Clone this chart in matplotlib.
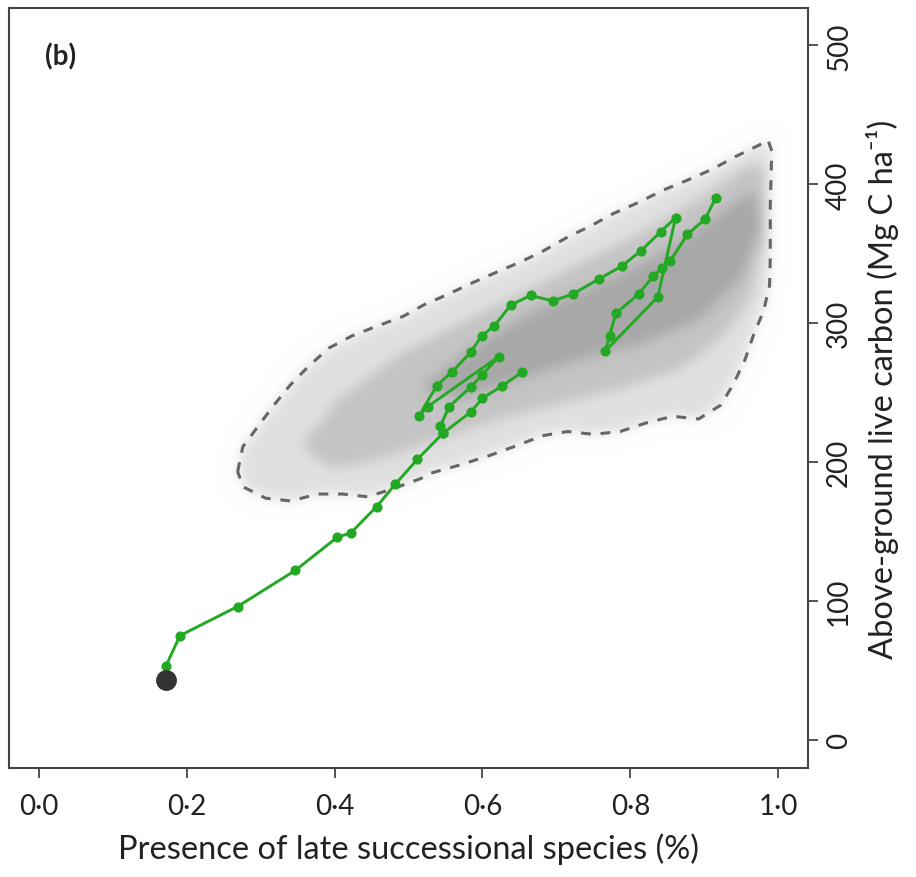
import matplotlib
matplotlib.use("Agg")
import numpy as np
import matplotlib.pyplot as plt
from matplotlib.path import Path

plt.rcParams['font.family'] = ['Lato', 'DejaVu Sans']

# ---------------- data ----------------
xticks = [0.0, 0.2, 0.4, 0.6, 0.8, 1.0]
xtick_labels = ["0·0", "0·2", "0·4", "0·6", "0·8", "1·0"]
yticks = [0, 100, 200, 300, 400, 500]
ytick_labels = ["0", "100", "200", "300", "400", "500"]

# outer envelope (dashed hull) of all simulated trajectories
hull_x = [0.269, 0.276, 0.297, 0.318, 0.341, 0.365, 0.392, 0.424, 0.458, 0.493,
          0.520, 0.554, 0.586, 0.620, 0.651, 0.682, 0.715, 0.746, 0.777, 0.811,
          0.845, 0.877, 0.911, 0.942, 0.973, 0.986, 0.991, 0.989, 0.989, 0.988,
          0.980, 0.966, 0.955, 0.939, 0.922, 0.892, 0.857, 0.820, 0.786, 0.750,
          0.715, 0.681, 0.647, 0.611, 0.570, 0.530, 0.516, 0.480, 0.445, 0.411,
          0.377, 0.341, 0.307, 0.277]
hull_y = [193, 211, 226, 241, 256, 269, 282, 291, 298, 305,
          313, 321, 329, 337, 344, 352, 362, 370, 379, 387,
          396, 403, 411, 420, 428, 432, 424, 385, 347, 327,
          309, 291, 274, 256, 241, 231, 233, 228, 222, 220,
          222, 219, 212, 205, 198, 192, 188, 181, 175, 177,
          177, 172, 174, 182]

# medium-density band of the grey trajectory cloud
mid_x = [0.354, 0.408, 0.489, 0.570, 0.651, 0.732, 0.814, 0.895, 0.962, 0.982,
         0.982, 0.962, 0.922, 0.868, 0.786, 0.705, 0.624, 0.543, 0.462, 0.395]
mid_y = [213, 246, 278, 300, 321, 343, 365, 390, 415, 411,
         361, 318, 289, 267, 253, 242, 231, 217, 202, 195]

# high-density core of the grey trajectory cloud
core_x = [0.516, 0.584, 0.665, 0.759, 0.841, 0.922, 0.969, 0.976, 0.949, 0.895,
          0.814, 0.732, 0.651, 0.570]
core_y = [253, 282, 307, 329, 350, 379, 397, 368, 332, 303,
          285, 274, 260, 246]

# highlighted trajectory (green)
traj_x = [0.172, 0.191, 0.269, 0.347, 0.404, 0.422, 0.457, 0.482, 0.512, 0.547,
          0.543, 0.555, 0.584, 0.600, 0.622, 0.526, 0.514, 0.538, 0.559, 0.584,
          0.599, 0.616, 0.638, 0.665, 0.695, 0.722, 0.758, 0.788, 0.814, 0.841,
          0.861, 0.837, 0.766, 0.772, 0.780, 0.811, 0.831, 0.843, 0.854, 0.877,
          0.901, 0.915]
traj_y = [53, 75, 96, 122, 146, 149, 168, 184, 202, 221,
          226, 240, 254, 263, 276, 240, 233, 255, 265, 279,
          291, 298, 313, 320, 316, 321, 332, 341, 352, 366,
          376, 319, 280, 291, 307, 321, 334, 340, 345, 364,
          375, 390]
# short branch of the trajectory
branch_x = [0.547, 0.584, 0.600, 0.627, 0.654]
branch_y = [221, 236, 246, 255, 265]

start_x = [0.172]
start_y = [43]

# ---------------- figure ----------------
XLIM = (-0.04, 1.04)
YLIM = (-20.3, 527)
fig = plt.figure(figsize=(9.16, 8.78), dpi=100)
ax = fig.add_axes([9/916, 1 - 769/878, (808 - 9)/916, (769 - 9)/878])
ax.set_xlim(*XLIM)
ax.set_ylim(*YLIM)

# grey trajectory cloud: soft shading built from the density regions
nx, ny = 800, 760
gx = np.linspace(XLIM[0], XLIM[1], nx)
gy = np.linspace(YLIM[0], YLIM[1], ny)
GX, GY = np.meshgrid(gx, gy)
pts = np.column_stack([GX.ravel(), GY.ravel()])

def region(xs, ys):
    return Path(np.column_stack([xs, ys])).contains_points(pts).reshape(ny, nx).astype(float)

dens = 0.12 * region(hull_x, hull_y) + 0.11 * region(mid_x, mid_y) + 0.11 * region(core_x, core_y)

def blur(a, sigma):
    r = int(3 * sigma)
    k = np.exp(-0.5 * (np.arange(-r, r + 1) / sigma) ** 2)
    k /= k.sum()
    a = np.apply_along_axis(lambda v: np.convolve(v, k, mode='same'), 0, a)
    a = np.apply_along_axis(lambda v: np.convolve(v, k, mode='same'), 1, a)
    return a

dens = blur(dens, 6)
shade = 1.0 - dens
rgb = np.dstack([shade, shade, shade])
ax.imshow(rgb, extent=(XLIM[0], XLIM[1], YLIM[0], YLIM[1]), origin='lower',
          aspect='auto', interpolation='bilinear', zorder=1)

# dashed hull
ax.plot(hull_x + hull_x[:1], hull_y + hull_y[:1], linestyle=(0, (3.2, 3.2)),
        color='#666666', lw=2.2, zorder=2)

# green trajectory
green = '#22a822'
ax.plot(traj_x, traj_y, '-o', color=green, lw=2.1, ms=6.3, mec=green, zorder=3)
ax.plot(branch_x, branch_y, '-o', color=green, lw=2.1, ms=6.3, mec=green, zorder=3)
ax.plot(start_x, start_y, 'o', color='#333333', ms=14, zorder=4)

# axes styling
for s in ax.spines.values():
    s.set_color('#444444')
    s.set_linewidth(1.5)
ax.yaxis.tick_right()
ax.yaxis.set_label_position('right')
ax.set_xticks(xticks)
ax.set_xticklabels(xtick_labels, fontsize=20)
ax.set_yticks(yticks)
ax.set_yticklabels(ytick_labels, fontsize=20, rotation=90, va='center')
ax.tick_params(axis='both', length=7, width=1.3, color='#444444', labelcolor='#222222')
ax.tick_params(axis='x', pad=11)
ax.tick_params(axis='y', pad=6)

ax.set_xlabel("Presence of late successional species (%)", fontsize=23.5,
              color='#222222', labelpad=10)
ax.set_ylabel("Above-ground live carbon (Mg C ha⁻¹)", fontsize=23.5,
              color='#222222', rotation=90, labelpad=10)

ax.text(0.045, 0.937, "(b)", transform=ax.transAxes, fontsize=20,
        fontweight='bold', ha='left', va='center', color='#222222')

fig.savefig("out.png", dpi=100)
